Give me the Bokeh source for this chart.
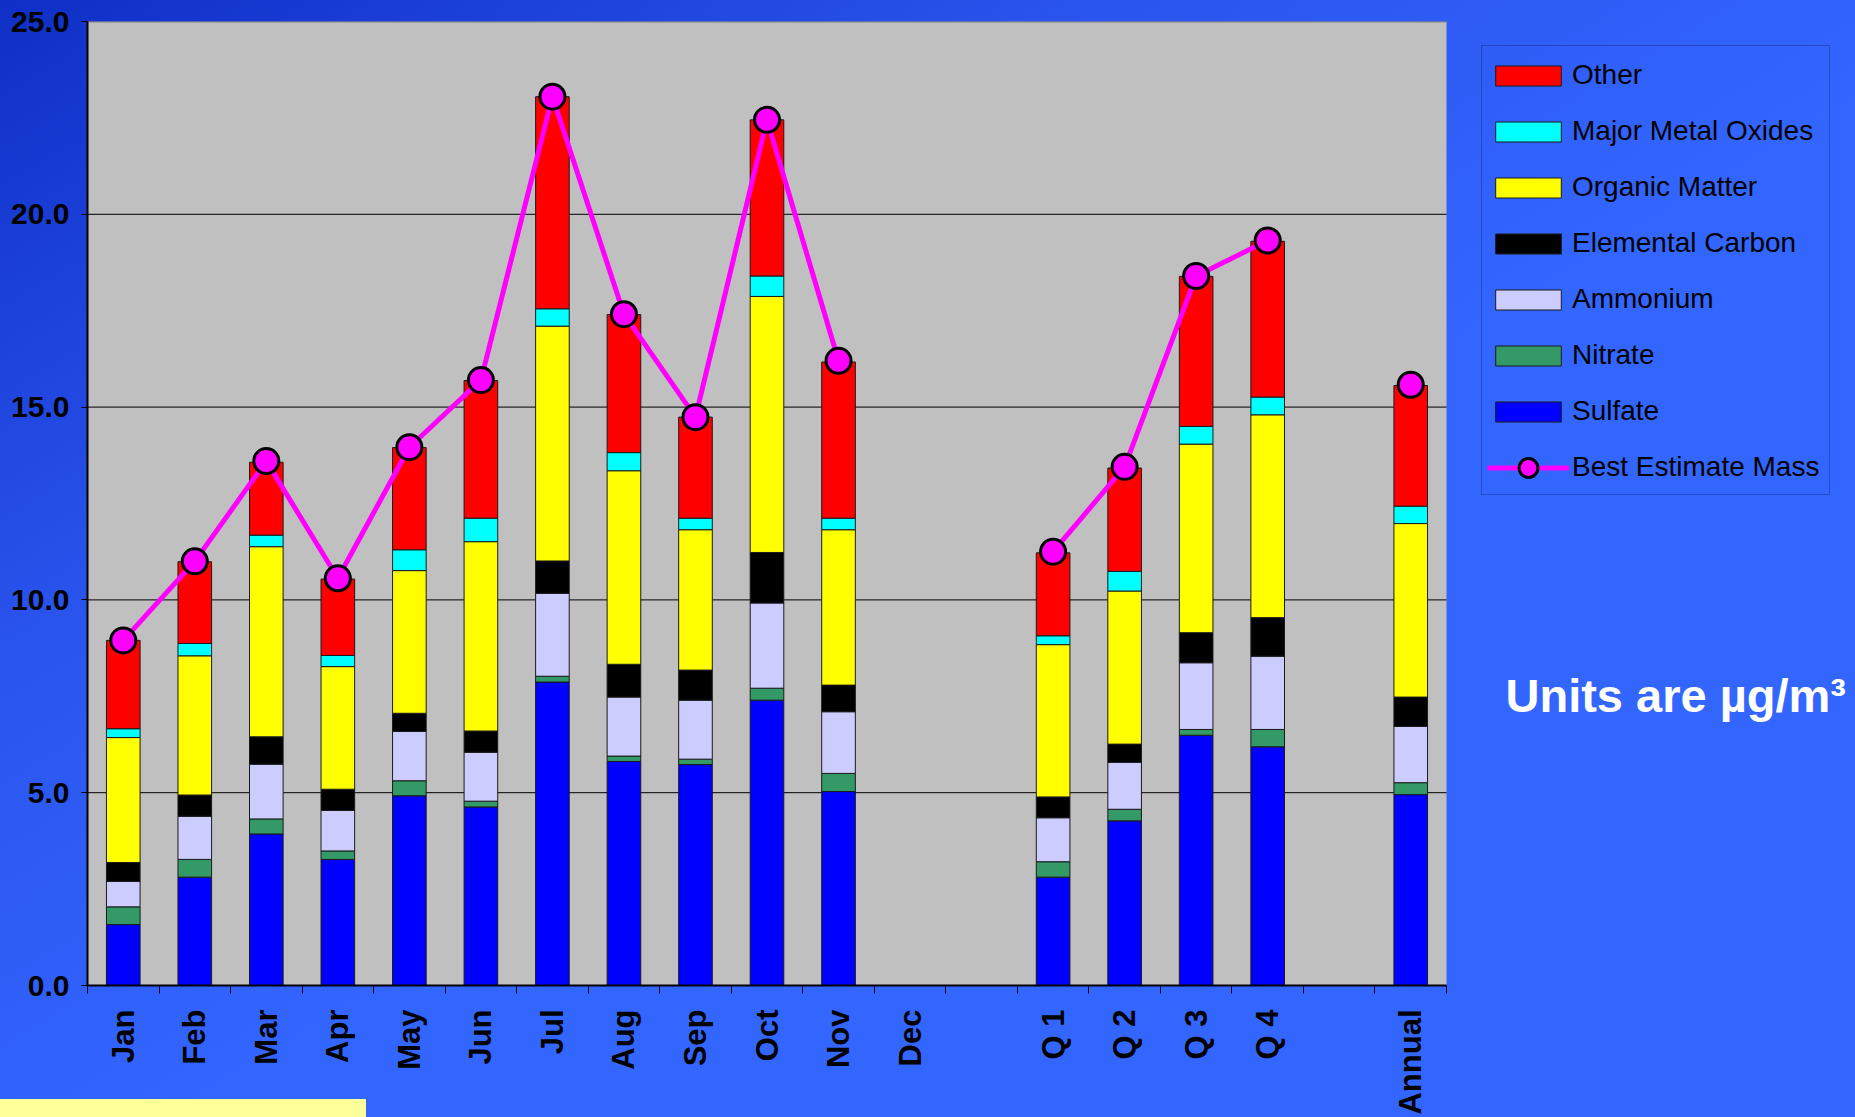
import numpy as np
from bokeh.plotting import figure
from bokeh.models import (ColumnDataSource, FixedTicker, NumeralTickFormatter,
                          Legend, LegendItem, Label, Range1d, BoxAnnotation)
from bokeh.embed import file_html
from bokeh.resources import INLINE

categories = ["Jan", "Feb", "Mar", "Apr", "May", "Jun", "Jul", "Aug", "Sep",
              "Oct", "Nov", "Dec", "", "Q 1", "Q 2", "Q 3", "Q 4", "", "Annual"]

sulfate   = [1.58, 2.81, 3.93, 3.27, 4.92, 4.63, 7.87, 5.81, 5.73, 7.40, 5.03, None, None, 2.81, 4.27, 6.49, 6.19, None, 4.95]
nitrate   = [0.46, 0.46, 0.39, 0.22, 0.39, 0.15, 0.15, 0.14, 0.14, 0.31, 0.47, None, None, 0.40, 0.30, 0.15, 0.45, None, 0.31]
ammonium  = [0.66, 1.12, 1.42, 1.05, 1.28, 1.27, 2.15, 1.53, 1.53, 2.21, 1.60, None, None, 1.14, 1.22, 1.73, 1.90, None, 1.46]
elemental = [0.49, 0.55, 0.71, 0.55, 0.47, 0.55, 0.84, 0.85, 0.78, 1.31, 0.69, None, None, 0.54, 0.47, 0.78, 1.00, None, 0.76]
organic   = [3.24, 3.61, 4.93, 3.18, 3.70, 4.91, 6.09, 5.02, 3.64, 6.64, 4.03, None, None, 3.95, 3.97, 4.89, 5.26, None, 4.50]
metals    = [0.23, 0.32, 0.30, 0.29, 0.54, 0.61, 0.45, 0.47, 0.30, 0.53, 0.30, None, None, 0.23, 0.51, 0.46, 0.46, None, 0.45]
other     = [2.29, 2.12, 1.89, 1.98, 2.65, 3.57, 5.50, 3.58, 2.62, 4.05, 4.05, None, None, 2.15, 2.68, 3.89, 4.04, None, 3.13]
best_estimate = [8.95, 11.00, 13.60, 10.56, 13.96, 15.70, 23.05, 17.41, 14.74, 22.45, 16.20, None, None, 11.25, 13.45, 18.40, 19.32, None, 15.58]

y_ticks = [0, 5, 10, 15, 20, 25]

series_names = ["Sulfate", "Nitrate", "Ammonium", "Elemental Carbon",
                "Organic Matter", "Major Metal Oxides", "Other"]
series_colors = ["#0000FF", "#339966", "#CCCCFF", "#000000",
                 "#FFFF00", "#00FFFF", "#FF0000"]
series_values = [sulfate, nitrate, ammonium, elemental, organic, metals, other]


def arr(v):
    return np.array([np.nan if x is None else x for x in v], dtype=float)


n = len(categories)
xpos = np.arange(n) + 0.5
data = {"x": xpos, "best": arr(best_estimate)}
keys = []
for i, (name, vals) in enumerate(zip(series_names, series_values)):
    k = "s%d" % i
    keys.append(k)
    data[k] = arr(vals)
source = ColumnDataSource(data)

W, H = 1855, 1117
LEFT, RIGHT, TOP, BOTTOM = 87, 1446, 21, 985
x_end = n * (W - LEFT) / (RIGHT - LEFT)   # frame runs to the right edge; plot area ends at n
YMAX = 25


def dx(sx):   # screen x -> data x
    return (sx - LEFT) * n / (RIGHT - LEFT)


def dy(sy):   # screen y -> data y
    return (BOTTOM - sy) * YMAX / (BOTTOM - TOP)


p = figure(width=W, height=H, output_backend="svg", toolbar_location=None,
           x_range=Range1d(0, x_end), y_range=Range1d(0, YMAX),
           min_border_left=LEFT, min_border_right=0,
           min_border_top=TOP, min_border_bottom=H - BOTTOM)

p.styles = {"background": "linear-gradient(#ffff99, #ffff99) 0px 1099px / 366px 18px no-repeat, "
                          "linear-gradient(to bottom right, #0f2fc6 0%, #2a55ee 30%, #3366ff 55%, #3366ff 100%)"}
p.border_fill_alpha = 0
p.background_fill_alpha = 0
p.outline_line_color = None

# gray plot area
p.add_layout(BoxAnnotation(left=0, right=n, bottom=0, top=YMAX, fill_color="#C0C0C0",
                           fill_alpha=1, line_color=None, level="image"))

# grid lines limited to plot area
p.xgrid.visible = False
p.ygrid.visible = False
p.segment(x0=[0] * 4, x1=[n] * 4, y0=y_ticks[1:5], y1=y_ticks[1:5],
          line_color="black", line_width=1)
p.segment(x0=[0], x1=[n], y0=[y_ticks[-1]], y1=[y_ticks[-1]],
          line_color="#808080", line_width=2)

renderers = p.vbar_stack(keys, x="x", width=0.47, source=source,
                         fill_color=series_colors, line_color="#1a1a1a", line_width=1)

line_r = p.line(x="x", y="best", source=source, line_color="#FF00FF", line_width=5)
dot_r = p.scatter(x="x", y="best", source=source, size=25, marker="circle",
                  fill_color="#FF00FF", line_color="black", line_width=3)

# axes
xa = p.xaxis[0]
xa.bounds = (0, n)
xa.ticker = FixedTicker(ticks=list(xpos), minor_ticks=list(range(n + 1)))
xa.major_label_overrides = {float(x): c for x, c in zip(xpos, categories)}
xa.major_label_orientation = np.pi / 2
xa.major_tick_line_color = None
xa.major_tick_out = 0
xa.major_tick_in = 0
xa.minor_tick_out = 8
xa.minor_tick_in = 0
xa.minor_tick_line_color = "black"
xa.minor_tick_line_width = 1
xa.major_label_standoff = 16
xa.major_label_text_font = "Liberation Sans"
xa.major_label_text_font_style = "bold"
xa.major_label_text_font_size = "31px"
xa.major_label_text_color = "black"
xa.axis_line_color = "black"
xa.axis_line_width = 2

ya = p.yaxis[0]
ya.ticker = FixedTicker(ticks=y_ticks)
ya.formatter = NumeralTickFormatter(format="0.0")
ya.major_tick_out = 6
ya.major_tick_in = 0
ya.minor_tick_line_color = None
ya.major_label_standoff = 12
ya.major_label_text_font = "Liberation Sans"
ya.major_label_text_font_style = "bold"
ya.major_label_text_font_size = "30px"
ya.major_label_text_color = "black"
ya.axis_line_color = "black"
ya.axis_line_width = 2

# legend (two parts inside one frame box so the line+marker sample can be larger)
LEG_L, LEG_R, LEG_T, LEG_B = 1481, 1829, 45, 494
SHIFT_X, SHIFT_Y = 6, -5
common = dict(glyph_width=82, label_height=46, label_standoff=3, spacing=10, padding=6,
              label_text_font="Liberation Sans", label_text_font_size="28px",
              label_text_color="black", background_fill_alpha=0, border_line_color=None)

order = [6, 5, 4, 3, 2, 1, 0]
items = [LegendItem(label=series_names[i], renderers=[renderers[i]]) for i in order]
legend1 = Legend(items=items,
                 location=(LEG_L - LEFT + SHIFT_X, BOTTOM - (LEG_T + 394 + SHIFT_Y)),
                 glyph_height=25, **common)
p.add_layout(legend1, "center")

legend2 = Legend(items=[LegendItem(label="Best Estimate Mass", renderers=[line_r, dot_r])],
                 location=(LEG_L - LEFT + SHIFT_X, BOTTOM - (LEG_T + 391.5 + 59 + SHIFT_Y)),
                 glyph_height=47, **common)
p.add_layout(legend2, "center")

p.add_layout(BoxAnnotation(left=dx(LEG_L), right=dx(LEG_R), top=dy(LEG_T), bottom=dy(LEG_B),
                           fill_alpha=0, line_color="#10104a", line_width=1))

units = Label(x=dx(1505), y=dy(695),
              text="Units are µg/m³", text_color="white",
              text_font="Liberation Sans", text_font_style="bold",
              text_font_size="47px", text_baseline="alphabetic")
p.add_layout(units)

open("out.html", "w").write(file_html(p, INLINE))
